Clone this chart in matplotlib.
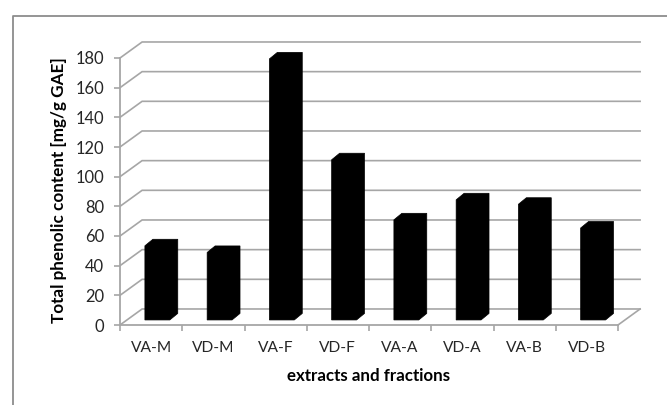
import matplotlib
matplotlib.use("Agg")
import matplotlib.pyplot as plt
from matplotlib.lines import Line2D
from matplotlib.patches import Polygon

categories = ["VA-M", "VD-M", "VA-F", "VD-F", "VA-A", "VD-A", "VA-B", "VD-B"]
values = [50, 45.5, 176, 108, 67.5, 81, 78, 62]
yticks = list(range(0, 181, 20))
ylabel = "Total phenolic content [mg/g GAE]"
xlabel = "extracts and fractions"

W, H = 667, 405
plt.rcParams["font.family"] = ["Lato", "DejaVu Sans"]
fig = plt.figure(figsize=(W / 100, H / 100), dpi=100)
GRID = "#a6a6a6"
FRAME = "#8c8c8c"
TXT = "#262626"

fig.add_artist(Line2D([13 / W, 13 / W, 1], [0, 1 - 16 / H, 1 - 16 / H],
                      transform=fig.transFigure, color=FRAME, lw=1.3))

L, R, T, B = 120, 618, 58, 325
ax = fig.add_axes([L / W, 1 - B / H, (R - L) / W, (B - T) / H])
ax.set_xlim(0, len(categories))
ax.set_ylim(0, 180)
ax.patch.set_alpha(0)
for s in ("top", "right"):
    ax.spines[s].set_visible(False)
for s in ("left", "bottom"):
    ax.spines[s].set_color(GRID)
    ax.spines[s].set_linewidth(1.3)

dxb, dyb = 0.355, 10.8
for v in yticks:
    ax.plot([0, dxb, len(categories) + dxb], [v, v + dyb, v + dyb], color=GRID, lw=1.2,
            clip_on=False, zorder=1, solid_joinstyle="miter")
ax.plot([len(categories), len(categories) + dxb], [0, dyb], color=GRID, lw=1.2, clip_on=False, zorder=1)

d, e = 0.128, 4.4
base = 3.4
for i, v in enumerate(values):
    x0, x1 = i + 0.40, i + 0.80
    ax.add_patch(Polygon([(x0, base), (x1, base), (x1 + d, base + e), (x1 + d, base + v + e),
                          (x0 + d, base + v + e), (x0, base + v)],
                         closed=True, fc="black", ec="black", lw=0.5, clip_on=False, zorder=3))

ax.set_yticks(yticks)
ax.set_xticks(range(len(categories) + 1))
ax.set_xticklabels([""] * (len(categories) + 1))
ax.tick_params(axis="both", color=GRID, width=1.2, length=4)
ax.tick_params(axis="y", labelsize=11.9, labelcolor=TXT, pad=7.5)
label_y = -(348 - B) / (B - T)
for i, c in enumerate(categories):
    ax.text(i + 0.5, label_y, c, transform=ax.get_xaxis_transform(),
            ha="center", va="center", fontsize=11.2, color=TXT)

fig.text(59 / W, 1 - 190 / H, ylabel, rotation=90, ha="center", va="center",
         fontsize=12.3, fontweight="bold", color="black")
fig.text(369 / W, 1 - 376 / H, xlabel, ha="center", va="center",
         fontsize=12.2, fontweight="bold", color="black")
fig.savefig("out.png", dpi=100)
